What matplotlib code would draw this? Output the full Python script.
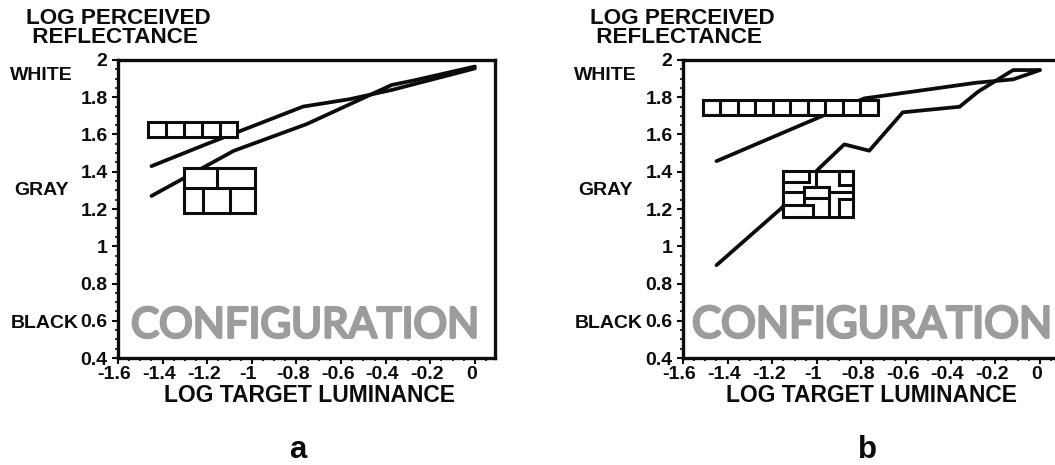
import matplotlib
matplotlib.use("Agg")
import matplotlib.pyplot as plt
from matplotlib.patches import Rectangle
from matplotlib.ticker import MultipleLocator
from matplotlib.transforms import ScaledTranslation
import matplotlib.patheffects as pe

plt.rcParams['font.family'] = ['Liberation Sans', 'DejaVu Sans']
plt.rcParams['font.weight'] = 'bold'

x_ticks = [-1.6, -1.4, -1.2, -1, -0.8, -0.6, -0.4, -0.2, 0]
x_labels = ['-1.6', '-1.4', '-1.2', '-1', '-0.8', '-0.6', '-0.4', '-0.2', '0']
y_ticks = [0.4, 0.6, 0.8, 1, 1.2, 1.4, 1.6, 1.8, 2]
y_labels = ['0.4', '0.6', '0.8', '1', '1.2', '1.4', '1.6', '1.8', '2']

a_upper_x = [-1.45, -1.2, -0.77, -0.56, -0.37, 0]
a_upper_y = [1.43, 1.55, 1.75, 1.79, 1.84, 1.955]
a_lower_x = [-1.45, -1.08, -0.754, -0.373, -0.275, 0]
a_lower_y = [1.27, 1.513, 1.656, 1.866, 1.89, 1.965]

b_upper_x = [-1.45, -0.967, -0.787, -0.285, -0.12, 0]
b_upper_y = [1.457, 1.704, 1.794, 1.878, 1.896, 1.946]
b_lower_x = [-1.45, -1.16, -0.99, -0.877, -0.765, -0.615, -0.36, -0.277, -0.12, 0]
b_lower_y = [0.898, 1.203, 1.418, 1.547, 1.513, 1.719, 1.749, 1.83, 1.946, 1.946]

W, H = 1055, 465
INK = '#0c0c0c'
GREY = '#9c9c9c'
fig = plt.figure(figsize=(W / 100, H / 100), dpi=100, facecolor='white')


def fitted_word(word_x, target_px):
    t = fig.text(word_x / W, 1 - 337.5 / H, 'CONFIGURATION', fontsize=36, va='baseline', ha='left',
                 color=GREY, fontfamily='Lato', fontweight='normal',
                 path_effects=[pe.withStroke(linewidth=2.0, foreground=GREY)])
    r = fig.canvas.get_renderer()
    w = t.get_window_extent(r).width
    t.set_fontsize(36 * target_px / w)
    return t


def panel(left_px, xu, xl, yu, yl, lab_x, letter, letter_px, word_x, word_w, xlabel_x):
    ax = fig.add_axes([left_px / W, 1 - 358 / H, 377 / W, 298 / H])
    ax.set_xlim(-1.6, 0.09)
    ax.set_ylim(0.4, 2)
    ax.plot(xu, yu, color=INK, lw=2.7, solid_capstyle='round', zorder=2)
    ax.plot(xl, yl, color=INK, lw=2.7, solid_capstyle='round', zorder=2)
    for s in ax.spines.values():
        s.set_linewidth(2.4)
        s.set_color(INK)
    ax.set_xticks(x_ticks, x_labels, fontsize=14)
    ax.set_yticks(y_ticks, y_labels, fontsize=14)
    ax.xaxis.set_minor_locator(MultipleLocator(0.05))
    ax.yaxis.set_minor_locator(MultipleLocator(0.05))
    ax.tick_params(which='major', length=4.5, width=1.5, color=INK, labelcolor=INK)
    ax.tick_params(which='minor', length=2.5, width=1.2, color=INK)
    ax.tick_params(axis='x', which='major', pad=1.5)
    ax.tick_params(axis='y', which='major', pad=3)
    shift = ScaledTranslation(-3.5 / 100, 0, fig.dpi_scale_trans)
    for lab in ax.get_xticklabels():
        lab.set_transform(lab.get_transform() + shift)
    kw = dict(transform=fig.transFigure, color=INK, fontweight='bold')
    ax.text(lab_x / W, 1 - 28 / H, 'LOG PERCEIVED\n REFLECTANCE', fontsize=16.2, va='center', ha='left',
            linespacing=0.86, **kw)
    ax.text((lab_x - 16) / W, 1 - 75 / H, 'WHITE', fontsize=14, va='center', ha='left', **kw)
    ax.text((lab_x - 12) / W, 1 - 190 / H, 'GRAY', fontsize=14, va='center', ha='left', **kw)
    ax.text((lab_x - 15) / W, 1 - 323 / H, 'BLACK', fontsize=14, va='center', ha='left', **kw)
    ax.text(xlabel_x / W, 1 - 396 / H, 'LOG TARGET LUMINANCE', fontsize=16.5, va='center', ha='center', **kw)
    ax.text(letter_px / W, 1 - 458 / H, letter, fontsize=22.5, va='baseline', ha='center', **kw)
    fitted_word(word_x, word_w)
    return ax


def row_icon(ax, x0, x1, y0, y1, n):
    ax.add_patch(Rectangle((x0, y0), x1 - x0, y1 - y0, fc='white', ec=INK, lw=2.2, zorder=3))
    for i in range(1, n):
        xi = x0 + (x1 - x0) * i / n
        ax.plot([xi, xi], [y0, y1], color=INK, lw=2.2, zorder=4, solid_capstyle='butt')


def box_icon(ax, x0, x1, y0, y1, segs):
    ax.add_patch(Rectangle((x0, y0), x1 - x0, y1 - y0, fc='white', ec=INK, lw=2.2, zorder=3))
    for (u0, v0, u1, v1) in segs:
        ax.plot([x0 + (x1 - x0) * u0, x0 + (x1 - x0) * u1],
                [y1 - (y1 - y0) * v0, y1 - (y1 - y0) * v1],
                color=INK, lw=2.2, zorder=4, solid_capstyle='projecting')


ax_a = panel(118, a_upper_x, a_lower_x, a_upper_y, a_lower_y, 26, 'a', 298, 131, 349, 310)
row_icon(ax_a, -1.464, -1.065, 1.585, 1.665, 5)
box_icon(ax_a, -1.304, -0.986, 1.177, 1.42,
         [(0, .44, 1, .44), (.46, 0, .46, .44), (.27, .44, .27, 1), (.65, .44, .65, 1)])

ax_b = panel(683, b_upper_x, b_lower_x, b_upper_y, b_lower_y, 590, 'b', 867, 692, 361, 872)
row_icon(ax_b, -1.512, -0.727, 1.704, 1.785, 10)
box_icon(ax_b, -1.15, -0.836, 1.158, 1.405,
         [(0, .24, .37, .24), (.37, 0, .37, .24), (.46, 0, .46, .36), (.3, .36, .65, .36),
          (.3, .36, .3, .75), (0, .46, .3, .46), (0, .75, .42, .75), (.42, .75, .42, 1),
          (.3, .58, .65, .58), (.65, .36, .65, 1), (.8, 0, .8, .31), (.8, .31, 1, .31),
          (.65, .46, 1, .46), (.8, .62, .8, 1), (.8, .62, 1, .62)])

fig.savefig('out.png', dpi=100, facecolor='white')
